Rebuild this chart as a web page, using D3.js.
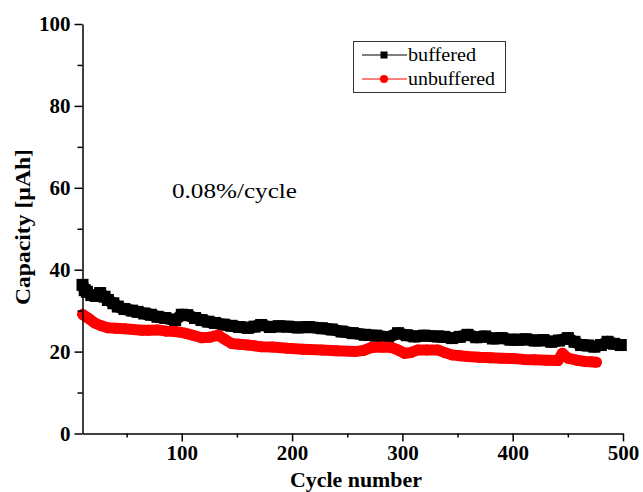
<!DOCTYPE html>
<html>
<head>
<meta charset="utf-8">
<script src="https://cdn.jsdelivr.net/npm/d3@7"></script>
<style>
  body { margin: 0; background: #fff; }
  svg { display: block; }
  text { font-family: "Liberation Serif", "Times New Roman", Times, serif; }
</style>
</head>
<body>
<div id="chart"></div>
<script>
// capacity vs cycle
const bufferedCycles = [10, 12, 14, 18, 22, 26, 30, 33, 38, 42, 48, 55, 60, 66, 72, 78, 85, 94, 100, 105, 112,
    118, 124, 130, 138, 145, 152, 160, 166, 172, 180, 188, 196, 205, 215, 227, 236, 245, 255, 266, 276,
    287, 296, 304, 311, 320, 332, 338, 345, 352, 359, 367, 375, 382, 390, 398, 405, 412, 420, 428, 435,
    442, 450, 456, 462, 468, 474, 480, 486, 492, 498];
const bufferedCapacity = [36.3, 35.0, 34.6, 33.8, 33.6, 34.3, 33.4, 32.6, 31.8, 31.0, 30.4, 30.0, 29.7, 29.3, 29.0, 28.5, 28.2, 27.7, 29.0, 28.9, 28.2,
    27.7, 27.3, 27.0, 26.6, 26.3, 26.0, 25.8, 26.1, 26.5, 26.0, 26.2, 26.1, 25.9, 26.0, 25.7, 25.4, 24.9, 24.5, 24.1, 23.9,
    23.5, 24.5, 24.0, 23.7, 23.9, 23.7, 23.6, 23.3, 23.6, 24.1, 23.5, 23.7, 23.2, 23.3, 22.9, 22.9, 23.0, 22.7, 22.8, 22.4,
    22.7, 23.3, 22.4, 21.6, 21.5, 21.2, 21.6, 22.4, 21.9, 21.6];

const unbufferedCycles = [10, 15, 21, 27, 33, 40, 48, 56, 64, 70, 78, 86, 94, 103, 110, 118, 125, 133, 139, 145,
    152, 160, 166, 172, 182, 196, 210, 227, 240, 257, 265, 272, 282, 290, 296, 302, 308, 314, 322, 332,
    338, 345, 352, 359, 370, 380, 390, 400, 410, 420, 430, 441, 445, 450, 458, 465, 471, 476];
const unbufferedCapacity = [29.1, 28.2, 27.0, 26.3, 25.8, 25.7, 25.6, 25.4, 25.2, 25.2, 25.3, 25.0, 24.9, 24.5, 24.0, 23.4, 23.5, 24.0, 23.0, 22.0,
    21.8, 21.6, 21.4, 21.2, 21.1, 20.8, 20.6, 20.4, 20.2, 20.0, 20.3, 21.0, 21.1, 21.0, 20.4, 19.6, 19.8, 20.4, 20.4, 20.4,
    19.8, 19.2, 19.0, 18.8, 18.6, 18.5, 18.4, 18.3, 18.1, 18.0, 17.9, 17.8, 19.6, 18.4, 17.9, 17.6, 17.5, 17.4];

const xMajorTicks = [100, 200, 300, 400, 500];
const xMinorTicks = [50, 150, 250, 350, 450];
const yMajorTicks = [0, 20, 40, 60, 80, 100];
const yMinorTicks = [10, 30, 50, 70, 90];

const seriesNames = ["buffered", "unbuffered"];
const seriesColors = ["#000000", "#ff0000"];

const width = 643, height = 492;
const margin = { top: 24, right: 20, bottom: 58.5, left: 82.5 };

const x = d3.scaleLinear().domain([10, 500]).range([margin.left, width - margin.right]);
const y = d3.scaleLinear().domain([0, 100]).range([height - margin.bottom, margin.top]);

const svg = d3.select("#chart").append("svg")
    .attr("width", width)
    .attr("height", height);

// data
const series = [
    { name: seriesNames[0], color: seriesColors[0], shape: "square", size: 12,
      points: bufferedCycles.map((c, i) => ({ c: c, v: bufferedCapacity[i] })) },
    { name: seriesNames[1], color: seriesColors[1], shape: "circle", size: 11,
      points: unbufferedCycles.map((c, i) => ({ c: c, v: unbufferedCapacity[i] })) }
];

const line = d3.line().x(d => x(d.c)).y(d => y(d.v));

const gData = svg.append("g");
series.forEach(s => {
    const g = gData.append("g");
    g.append("path")
        .datum(s.points)
        .attr("fill", "none")
        .attr("stroke", s.color)
        .attr("stroke-width", s.size)
        .attr("stroke-linejoin", "round")
        .attr("d", line);
    if (s.shape === "square") {
        g.selectAll("rect").data(s.points).join("rect")
            .attr("x", d => x(d.c) - s.size / 2)
            .attr("y", d => y(d.v) - s.size / 2)
            .attr("width", s.size)
            .attr("height", s.size)
            .attr("fill", s.color);
    } else {
        g.selectAll("circle").data(s.points).join("circle")
            .attr("cx", d => x(d.c))
            .attr("cy", d => y(d.v))
            .attr("r", s.size / 2)
            .attr("fill", s.color);
    }
});

// axes
const xAxis = svg.append("g")
    .attr("transform", `translate(0,${y(0)})`)
    .call(d3.axisBottom(x).tickValues(xMajorTicks).tickSize(8).tickSizeOuter(0).tickPadding(4));
xAxis.append("g")
    .call(d3.axisBottom(x).tickValues(xMinorTicks).tickSize(4).tickFormat(""))
    .select(".domain").remove();

const yAxis = svg.append("g")
    .attr("transform", `translate(${x(10)},0)`)
    .call(d3.axisLeft(y).tickValues(yMajorTicks).tickSize(8).tickSizeOuter(0).tickPadding(4));
yAxis.append("g")
    .call(d3.axisLeft(y).tickValues(yMinorTicks).tickSize(5).tickFormat(""))
    .select(".domain").remove();

svg.selectAll(".domain, .tick line")
    .attr("stroke", "#000")
    .attr("stroke-width", 1.5);

svg.selectAll(".tick text")
    .attr("fill", "#000")
    .style("font-family", "'Liberation Serif', 'Times New Roman', serif")
    .style("font-weight", "bold")
    .style("font-size", "21px");

// axis titles
svg.append("text")
    .attr("x", 356)
    .attr("y", 487)
    .attr("text-anchor", "middle")
    .style("font-weight", "bold")
    .style("font-size", "21px")
    .attr("textLength", 132)
    .attr("lengthAdjust", "spacingAndGlyphs")
    .text("Cycle number");

svg.append("text")
    .attr("transform", "translate(30,227) rotate(-90)")
    .attr("text-anchor", "middle")
    .style("font-weight", "bold")
    .style("font-size", "20px")
    .attr("textLength", 156)
    .attr("lengthAdjust", "spacingAndGlyphs")
    .text("Capacity [µAh]");

// annotation
svg.append("text")
    .attr("x", 172)
    .attr("y", 198)
    .style("font-size", "22px")
    .attr("textLength", 125)
    .attr("lengthAdjust", "spacingAndGlyphs")
    .text("0.08%/cycle");

// legend
const legend = svg.append("g");
legend.append("rect")
    .attr("x", 353.5)
    .attr("y", 41.5)
    .attr("width", 152)
    .attr("height", 51)
    .attr("fill", "#fff")
    .attr("stroke", "#333")
    .attr("stroke-width", 1);

const legendRows = legend.selectAll("g.row").data(series).join("g")
    .attr("class", "row")
    .attr("transform", (d, i) => `translate(0,${55 + i * 24})`);

legendRows.append("line")
    .attr("x1", 362).attr("x2", 407)
    .attr("stroke", d => d.color)
    .attr("stroke-width", 1);
legendRows.filter(d => d.shape === "square").append("rect")
    .attr("x", 380.5).attr("y", -3.5)
    .attr("width", 7).attr("height", 7)
    .attr("fill", d => d.color);
legendRows.filter(d => d.shape === "circle").append("circle")
    .attr("cx", 384).attr("cy", 0).attr("r", 4)
    .attr("fill", d => d.color);
legendRows.append("text")
    .attr("x", 408)
    .attr("y", 6)
    .style("font-size", "18px")
    .attr("textLength", (d, i) => i === 0 ? 68 : 87)
    .attr("lengthAdjust", "spacingAndGlyphs")
    .text(d => d.name);
</script>
</body>
</html>
